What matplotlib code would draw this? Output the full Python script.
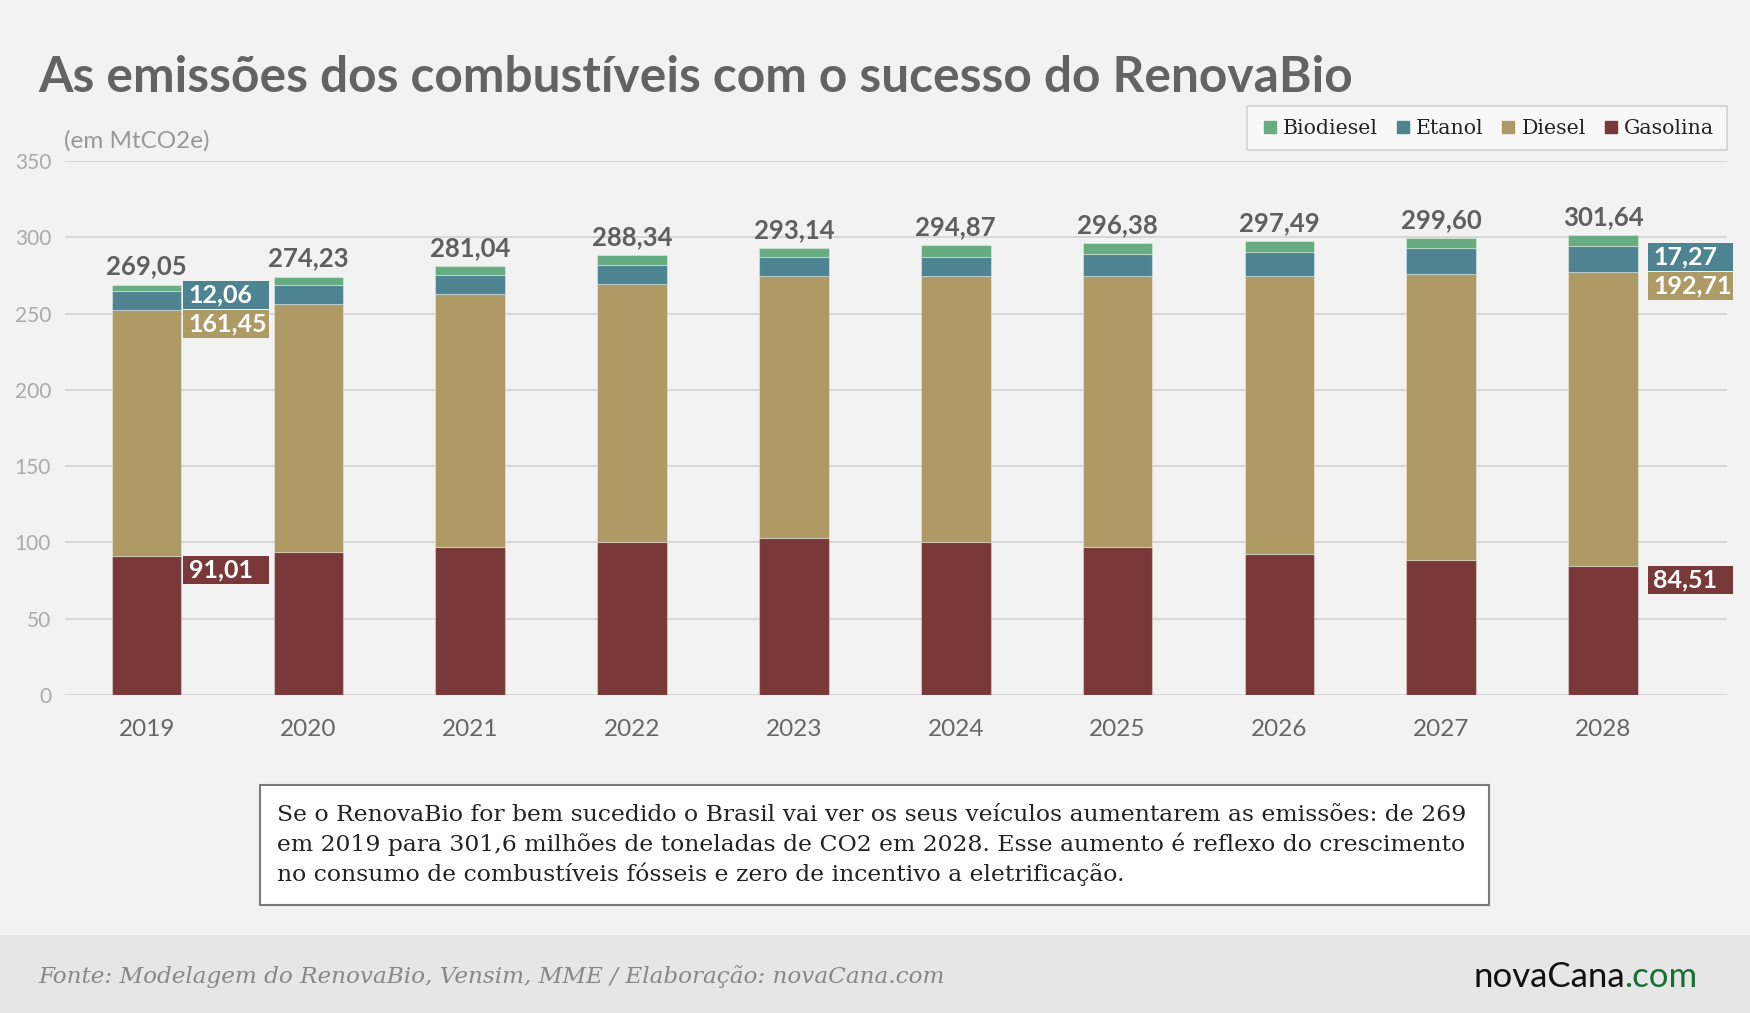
import matplotlib
matplotlib.use("Agg")
import matplotlib.pyplot as plt
from matplotlib.patches import Rectangle
from matplotlib.lines import Line2D

# data (MtCO2e)
anos = ['2019', '2020', '2021', '2022', '2023', '2024', '2025', '2026', '2027', '2028']
gasolina = [91.01, 93.80, 96.90, 100.30, 103.00, 100.40, 96.90, 92.50, 88.70, 84.51]
diesel = [161.45, 162.40, 165.80, 169.30, 171.40, 174.00, 177.70, 182.00, 187.00, 192.71]
etanol = [12.06, 12.60, 12.60, 12.20, 12.40, 13.00, 14.30, 15.80, 17.40, 17.27]
biodiesel = [4.53, 5.43, 5.74, 6.54, 6.34, 7.47, 7.48, 7.19, 6.50, 7.15]
totais = [269.05, 274.23, 281.04, 288.34, 293.14, 294.87, 296.38, 297.49, 299.60, 301.64]

series = ['Biodiesel', 'Etanol', 'Diesel', 'Gasolina']
cores = {'Biodiesel': '#66ac80', 'Etanol': '#4e8491', 'Diesel': '#ae9a64', 'Gasolina': '#7a3939'}

titulo = 'As emissões dos combustíveis com o sucesso do RenovaBio'
unidade = '(em MtCO2e)'
nota = ('Se o RenovaBio for bem sucedido o Brasil vai ver os seus veículos aumentarem as emissões: de 269\n'
        'em 2019 para 301,6 milhões de toneladas de CO2 em 2028. Esse aumento é reflexo do crescimento\n'
        'no consumo de combustíveis fósseis e zero de incentivo a eletrificação.')
fonte = 'Fonte: Modelagem do RenovaBio, Vensim, MME / Elaboração: novaCana.com'

def fmt(v):
    return f'{v:.2f}'.replace('.', ',')

plt.rcParams['font.family'] = ['Lato', 'DejaVu Sans']

W, H = 1750, 1013
fig = plt.figure(figsize=(W / 100, H / 100), dpi=100, facecolor='#f2f2f2')

# footer band
fig.patches.append(Rectangle((0, 0), 1, 1 - 935 / H, transform=fig.transFigure,
                             facecolor='#e6e6e6', edgecolor='none', zorder=0))

ax = fig.add_axes([65 / W, 1 - 695 / H, (1727 - 65) / W, (695 - 161) / H])
ax.set_facecolor('#f2f2f2')
ax.set_xlim(-0.504, 9.766)
ax.set_ylim(0, 350)
ax.set_yticks(range(0, 351, 50))
ax.yaxis.grid(True, color='#d2d2d2', linewidth=1.2)
ax.set_axisbelow(True)
for s in ax.spines.values():
    s.set_visible(False)
ax.tick_params(length=0)
ax.tick_params(axis='y', labelsize=15, labelcolor='#aaaaaa', pad=10)
ax.tick_params(axis='x', labelsize=17.5, labelcolor='#666666', pad=17)

x = list(range(len(anos)))
w = 0.43
base = [0] * len(anos)
for nome, vals in [('Gasolina', gasolina), ('Diesel', diesel), ('Etanol', etanol), ('Biodiesel', biodiesel)]:
    ax.bar(x, vals, w, bottom=base, color=cores[nome], edgecolor=(1, 1, 1, 0.35), linewidth=0.8)
    base = [b + v for b, v in zip(base, vals)]
ax.set_xticks(x)
ax.set_xticklabels(anos)

for xi, t in zip(x, base):
    ax.text(xi, t + 4, fmt(t), ha='center', va='bottom', fontsize=18.5, fontweight='bold', color='#5f5f5f')

# value boxes for first and last year
bw, bh = 0.53, 18.3
for i, gap in [(0, 0.01), (len(anos) - 1, 0.06)]:
    x0 = x[i] + w / 2 + gap
    topo_g = gasolina[i]
    topo_d = gasolina[i] + diesel[i]
    caixas = [(topo_g, gasolina[i], 'Gasolina'),
              (topo_d, diesel[i], 'Diesel'),
              (topo_d + bh + 0.6, etanol[i], 'Etanol')]
    for topo, v, nome in caixas:
        ax.add_patch(Rectangle((x0, topo - bh), bw, bh, facecolor=cores[nome],
                               edgecolor='none', clip_on=False, zorder=4))
        ax.text(x0 + 0.035, topo - bh / 2, fmt(v), ha='left', va='center', fontsize=18,
                fontweight='bold', color='white', zorder=5, clip_on=False)

# legend
hs = [Line2D([], [], marker='s', linestyle='none', markersize=9, color=cores[n]) for n in series]
leg = fig.legend(hs, series, ncol=4, loc='upper right', bbox_to_anchor=(1727 / W, 1 - 106 / H),
                 frameon=True, fancybox=False, handletextpad=0.15, columnspacing=0.7,
                 handlelength=1.0, borderpad=0.62, borderaxespad=0,
                 prop={'family': 'DejaVu Serif', 'size': 14.8})
leg.get_frame().set_facecolor('#fafafa')
leg.get_frame().set_edgecolor('#c8c8c8')
leg.get_frame().set_linewidth(1.2)
for t in leg.get_texts():
    t.set_color('#222222')

fig.text(38 / W, 1 - 77 / H, titulo, ha='left', va='center', fontsize=35.7, fontweight='bold', color='#636363')
fig.text(64 / W, 1 - 141 / H, unidade, ha='left', va='center', fontsize=17.5, color='#999999')

# note box
fig.patches.append(Rectangle((260 / W, 1 - 905 / H), (1489 - 260) / W, (905 - 785) / H,
                             transform=fig.transFigure, facecolor='white',
                             edgecolor='#7a7a7a', linewidth=1.5, zorder=1))
fig.text(277 / W, 1 - 845 / H, nota, ha='left', va='center', fontsize=16.9, color='#222222',
         family='DejaVu Serif', linespacing=1.35, zorder=2)

fig.text(38 / W, 1 - 977 / H, fonte, ha='left', va='center', fontsize=16.7, style='italic',
         color='#888888', family='DejaVu Serif')
logo = fig.text(1473 / W, 1 - 977 / H, 'novaCana', ha='left', va='center', fontsize=25,
                fontweight='normal', color='#111111')
fig.canvas.draw()
bb = logo.get_window_extent()
fig.text(bb.x1 / W, 1 - 977 / H, '.com', ha='left', va='center', fontsize=25,
         fontweight='normal', color='#14712f')

fig.savefig('out.png', dpi=100, facecolor=fig.get_facecolor())
